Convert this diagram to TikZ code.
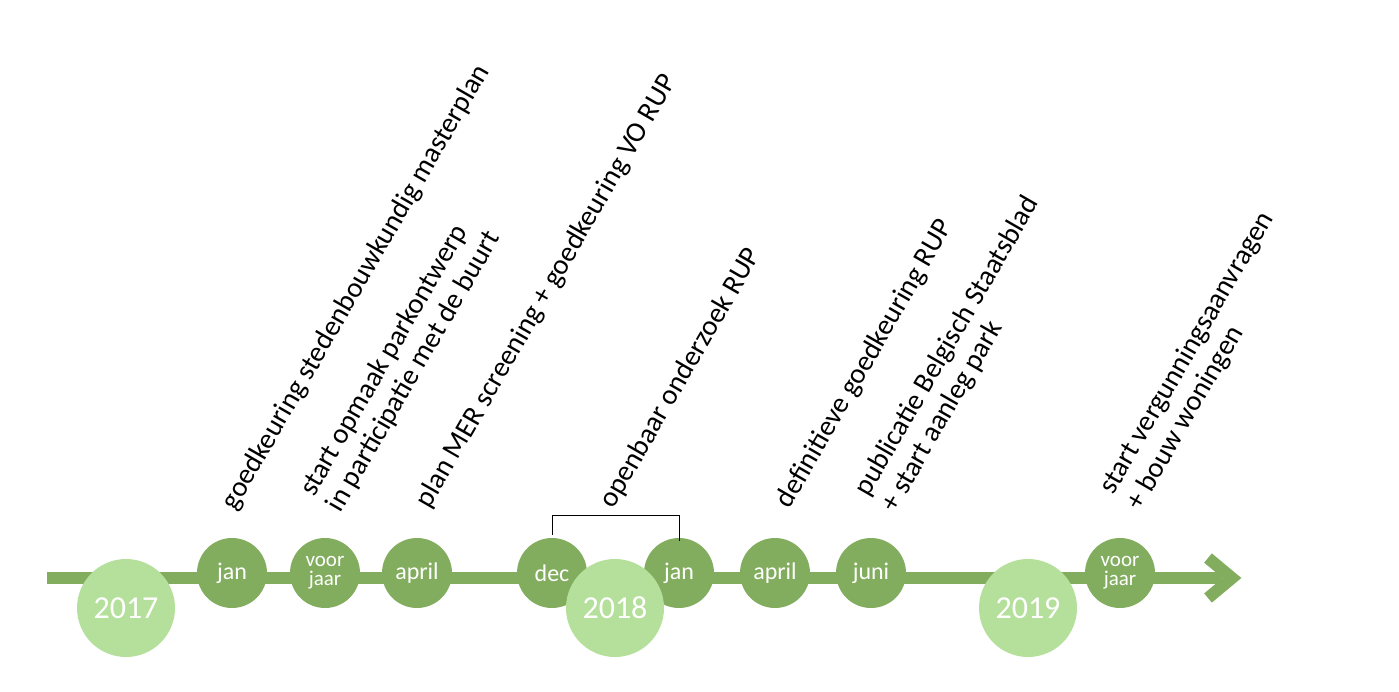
\documentclass[tikz,border=0pt]{standalone}
\usepackage{fontspec}
\setmainfont{Carlito}
\definecolor{dg}{HTML}{82AD5E}
\definecolor{lg}{HTML}{B5E09B}
\begin{document}
\begin{tikzpicture}[x=1pt,y=-1pt,
  month/.style={circle,fill=dg,minimum size=70pt,inner sep=0pt,text=white,font=\fontsize{24}{20}\selectfont,align=center},
  small/.style={font=\fontsize{21}{19}\selectfont},
  year/.style={circle,fill=lg,minimum size=98pt,inner sep=0pt,text=white,font=\fontsize{32}{30}\selectfont},
  lab/.style={rotate=60,anchor=south west,align=left,inner sep=0pt,font=\fontsize{28.5}{31}\selectfont}]
\useasboundingbox (0,0) rectangle (1399,692);
\coordinate (s) at (47,578);
\coordinate (e) at (1222,578);
\draw[dg,line width=12pt] (s) -- (e);
\draw[dg,line width=12pt,miter limit=10] (1208,558) -- (1232,578) -- (1208,598);
\node[month] (m1) at (232,573) {jan};
\node[month,small] (m2) at (325,573) {voor\\jaar};
\node[month] (m3) at (417,573) {april};
\node[month] (m4) at (552,573) {dec};
\node[month] (m5) at (679,573) {jan};
\node[month] (m6) at (775,573) {april};
\node[month] (m7) at (871,573) {juni};
\node[month,small] (m8) at (1120,573) {voor\\jaar};
\node[year] (y1) at (126,608) {2017};
\node[year] (y2) at (615,608) {2018};
\node[year] (y3) at (1028,608) {2019};
\draw[black,line width=0.8pt] (m4.north) ++(0,-3) coordinate (b1) -- ++(0,-19) -| ([yshift=-3pt]m5.north);
\node[lab] (l1) at (240,514) {goedkeuring stedenbouwkundig masterplan};
\node[lab] (l2) at (345,516) {start opmaak parkontwerp\\in participatie met de buurt};
\node[lab] (l3) at (434,512) {plan MER screening + goedkeuring VO RUP};
\node[lab] (l4) at (618,512) {openbaar onderzoek RUP};
\node[lab] (l5) at (794,512) {definitieve goedkeuring RUP};
\node[lab] (l6) at (900,516) {publicatie Belgisch Staatsblad\\+ start aanleg park};
\node[lab] (l7) at (1145,514) {start vergunningsaanvragen\\+ bouw woningen};
\end{tikzpicture}
\end{document}
